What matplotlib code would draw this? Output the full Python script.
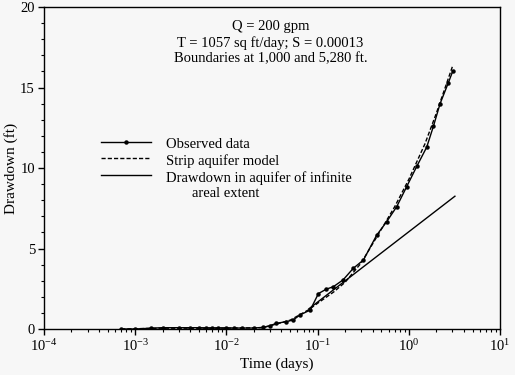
import matplotlib
matplotlib.use("Agg")
import matplotlib.pyplot as plt
from matplotlib.lines import Line2D
from matplotlib.ticker import LogLocator, MultipleLocator, NullFormatter

plt.rcParams["font.family"] = ["Liberation Serif", "DejaVu Serif"]
plt.rcParams["mathtext.fontset"] = "custom"
plt.rcParams["mathtext.rm"] = "Liberation Serif"
plt.rcParams["mathtext.it"] = "Liberation Serif:italic"

# ── data ──────────────────────────────────────────────────────
obs_t = [0.0007, 0.001, 0.0015, 0.002, 0.003, 0.004, 0.005, 0.006, 0.007,
         0.008, 0.01, 0.012, 0.015, 0.02, 0.025, 0.03, 0.035, 0.045, 0.054,
         0.064, 0.083, 0.102, 0.124, 0.149, 0.19, 0.246, 0.318, 0.445,
         0.572, 0.736, 0.948, 1.22, 1.57, 1.86, 2.2, 2.71, 3.02]
obs_s = [0.0, 0.0, 0.05, 0.08, 0.08, 0.08, 0.08, 0.07, 0.07,
         0.07, 0.07, 0.06, 0.06, 0.06, 0.1, 0.2, 0.35, 0.45, 0.56,
         0.87, 1.18, 2.2, 2.47, 2.63, 3.05, 3.77, 4.29, 5.84,
         6.67, 7.6, 8.85, 10.1, 11.3, 12.6, 14.0, 15.3, 16.0]

model_t = [0.0007, 0.002, 0.01, 0.025, 0.035, 0.05, 0.08, 0.1, 0.15, 0.2,
           0.3, 0.5, 0.7, 1.0, 1.5, 2.0, 3.0]
model_s = [0.0, 0.05, 0.05, 0.08, 0.3, 0.55, 1.2, 1.6, 2.3, 2.9,
           4.1, 6.2, 7.6, 9.3, 11.5, 13.4, 16.3]

inf_t = [0.08, 3.2]
inf_s = [1.25, 8.25]

# ── canvas ────────────────────────────────────────────────────
BG = "#f7f7f7"
FS = 10.5
fig = plt.figure(figsize=(5.15, 3.75), dpi=100)
fig.patch.set_facecolor(BG)
ax = fig.add_axes([0.0854, 0.1227, 0.8856, 0.8583])
ax.set_facecolor(BG)

ax.plot(inf_t, inf_s, color="black", lw=1.0)
ax.plot(model_t, model_s, color="black", lw=1.0, ls=(0, (3, 1.5)))
ax.plot(obs_t, obs_s, color="black", lw=1.0, marker="o", ms=2.2)

ax.set_xscale("log")
ax.set_xlim(1e-4, 1e1)
ax.set_ylim(0, 20)

ax.xaxis.set_minor_locator(LogLocator(base=10, subs=range(2, 10), numticks=10))
ax.xaxis.set_minor_formatter(NullFormatter())
ax.set_xticks([1e-4, 1e-3, 1e-2, 1e-1, 1e0, 1e1])
ax.set_xticklabels([r"10$^{-4}$", r"10$^{-3}$", r"10$^{-2}$",
                    r"10$^{-1}$", r"10$^{0}$", r"10$^{1}$"])
ax.set_yticks([0, 5, 10, 15, 20])
ax.yaxis.set_minor_locator(MultipleLocator(1))

ax.tick_params(which="both", direction="out", top=False, right=False,
               labelsize=10.5, color="black", pad=2)
ax.tick_params(which="major", length=4.5, width=1)
ax.tick_params(which="minor", length=2.5, width=0.8)
for sp in ax.spines.values():
    sp.set_linewidth(1.0)

ax.set_xlabel("Time (days)", fontsize=FS + 0.5)
ax.set_ylabel("Drawdown (ft)", fontsize=FS + 0.5)
ax.xaxis.set_label_coords(0.51, -0.09)
ax.yaxis.set_label_coords(-0.057, 0.5)

# ── annotation ────────────────────────────────────────────────
ax.text(0.497, 0.89, "Q = 200 gpm\nT = 1057 sq ft/day; S = 0.00013\n"
        "Boundaries at 1,000 and 5,280 ft.",
        transform=ax.transAxes, ha="center", va="center", fontsize=FS,
        linespacing=1.25)

# ── hand-drawn legend ─────────────────────────────────────────
leg_y = [0.581, 0.531, 0.478]
x0, x1 = 0.125, 0.235
ax.add_line(Line2D([x0, x1], [leg_y[0]] * 2, transform=ax.transAxes,
                   color="black", lw=1.0))
ax.add_line(Line2D([(x0 + x1) / 2], [leg_y[0]], transform=ax.transAxes,
                   color="black", marker="o", ms=2.2))
ax.add_line(Line2D([x0, x1], [leg_y[1]] * 2, transform=ax.transAxes,
                   color="black", lw=1.0, ls=(0, (3, 1.5))))
ax.add_line(Line2D([x0, x1], [leg_y[2]] * 2, transform=ax.transAxes,
                   color="black", lw=1.0))
tx = 0.268
ax.text(tx, leg_y[0] - 0.008, "Observed data", transform=ax.transAxes,
        fontsize=FS, va="center")
ax.text(tx, leg_y[1] - 0.008, "Strip aquifer model", transform=ax.transAxes,
        fontsize=FS, va="center")
ax.text(tx, leg_y[2] - 0.008, "Drawdown in aquifer of infinite",
        transform=ax.transAxes, fontsize=FS, va="center")
ax.text(0.325, leg_y[2] - 0.058, "areal extent",
        transform=ax.transAxes, fontsize=FS, va="center")

plt.savefig("out.png", dpi=100, facecolor=fig.get_facecolor())
